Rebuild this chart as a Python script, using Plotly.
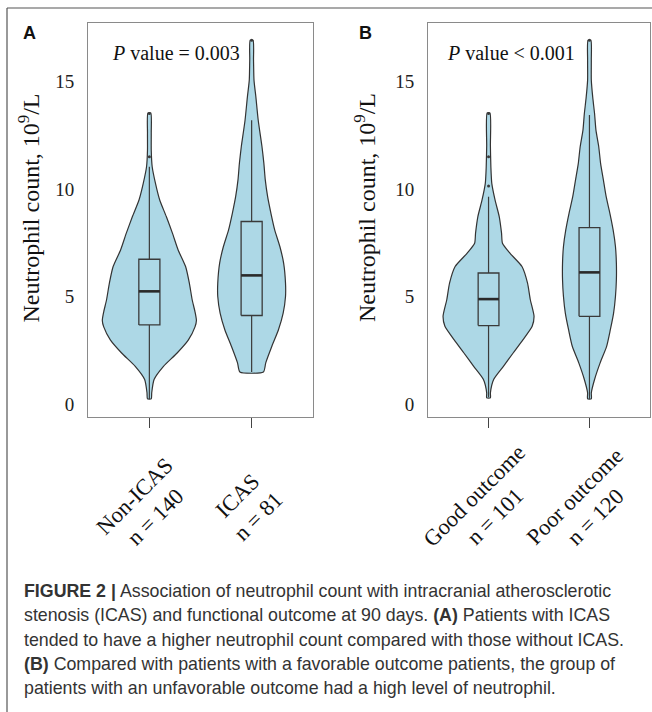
import plotly.graph_objects as go

W, H = 652, 712

# ---------------- data ----------------
groups_A = ["Non-ICAS", "ICAS"]
n_A = [140, 81]
groups_B = ["Good outcome", "Poor outcome"]
n_B = [101, 120]
p_text_A = "<i>P</i> value = 0.003"
p_text_B = "<i>P</i> value < 0.001"
y_ticks = [0, 5, 10, 15]

# box statistics (lower whisker, Q1, median, Q3, upper whisker)
box_nonicas = [0.26, 3.69, 5.25, 6.74, 11.03]
box_icas = [1.51, 4.13, 5.99, 8.49, 13.19]
box_good = [0.34, 3.66, 4.89, 6.10, 9.64]
box_poor = [0.26, 4.09, 6.13, 8.21, 13.43]

out_nonicas = [11.5, 13.5]
out_icas = [16.9]
out_good = [10.14, 11.5, 13.5]
out_poor = [16.9]

# violin density profiles (value, relative density)
vy_nonicas = [0.26, 0.54, 1.16, 1.77, 2.39, 3.0, 3.6, 3.9, 4.3, 4.86, 5.63, 6.4, 7.18,
              7.95, 8.72, 9.49, 10.26, 11.03, 11.8, 12.6, 13.53]
vd_nonicas = [0.04, 0.05, 0.10, 0.30, 0.59, 0.83, 0.97, 1.0, 0.97, 0.91, 0.85, 0.77, 0.61,
              0.49, 0.36, 0.22, 0.13, 0.06, 0.04, 0.04, 0.03]

vy_icas = [1.51, 1.93, 2.7, 3.47, 4.24, 5.01, 5.63, 6.56, 7.33, 8.1, 8.87, 9.64, 10.42,
           11.19, 11.96, 13.19, 14.27, 15.05, 16.0, 16.9]
vd_icas = [0.25, 0.30, 0.43, 0.57, 0.67, 0.72, 0.72, 0.68, 0.60, 0.49, 0.41, 0.34, 0.29,
           0.26, 0.22, 0.14, 0.09, 0.05, 0.04, 0.03]

vy_good = [0.31, 0.54, 1.16, 1.77, 2.39, 3.0, 3.63, 4.09, 4.86, 5.63, 6.4, 7.02, 7.48,
           7.95, 8.72, 9.49, 10.26, 11.03, 12.0, 13.53]
vd_good = [0.04, 0.04, 0.11, 0.32, 0.53, 0.74, 0.94, 0.98, 0.90, 0.84, 0.72, 0.46, 0.30,
           0.28, 0.23, 0.14, 0.07, 0.05, 0.04, 0.03]

vy_poor = [0.26, 0.54, 1.16, 1.93, 2.7, 3.47, 4.24, 5.01, 5.79, 6.56, 7.33, 8.1, 8.87,
           9.64, 10.42, 11.19, 11.96, 12.73, 13.5, 14.27, 15.05, 16.0, 16.9]
vd_poor = [0.04, 0.04, 0.11, 0.23, 0.37, 0.45, 0.52, 0.56, 0.58, 0.58, 0.56, 0.51, 0.44,
           0.36, 0.30, 0.24, 0.20, 0.14, 0.11, 0.07, 0.04, 0.04, 0.03]

CAPTION_LINES = [
    "<b>FIGURE 2 |</b> Association of neutrophil count with intracranial atherosclerotic",
    "stenosis (ICAS) and functional outcome at 90 days. <b>(A)</b> Patients with ICAS",
    "tended to have a higher neutrophil count compared with those without ICAS.",
    "<b>(B)</b> Compared with patients with a favorable outcome patients, the group of",
    "patients with an unfavorable outcome had a high level of neutrophil.",
]

# ---------------- styling ----------------
FILL = "#ADD8E6"
EDGE = "#333333"
BOXLINE = "#3a3a3a"
SERIF = "Liberation Serif"
SANS = "Liberation Sans"
VIOLIN_HALF = 0.46   # x-units for relative density 1.0
BOX_W = 0.206

fig = go.Figure()


def add_group(pos, vy, vd, box, outl, xa, ya):
    # violin outline
    xs = [pos - d * VIOLIN_HALF for d in vd] + [pos + d * VIOLIN_HALF for d in reversed(vd)]
    ys = list(vy) + list(reversed(vy))
    xs.append(xs[0])
    ys.append(ys[0])
    fig.add_trace(go.Scatter(x=xs, y=ys, mode="lines", fill="toself", fillcolor=FILL,
                             line=dict(color=EDGE, width=1.2, shape="spline", smoothing=0.6),
                             xaxis=xa, yaxis=ya, hoverinfo="skip"))
    lf, q1, med, q3, uf = box
    # whiskers
    fig.add_trace(go.Scatter(x=[pos, pos, None, pos, pos], y=[lf, q1, None, q3, uf],
                             mode="lines", line=dict(color=BOXLINE, width=1.2),
                             xaxis=xa, yaxis=ya, hoverinfo="skip"))
    # box body
    l, r = pos - BOX_W / 2, pos + BOX_W / 2
    fig.add_trace(go.Scatter(x=[l, r, r, l, l], y=[q1, q1, q3, q3, q1], mode="lines",
                             fill="toself", fillcolor=FILL,
                             line=dict(color=BOXLINE, width=1.3),
                             xaxis=xa, yaxis=ya, hoverinfo="skip"))
    # median
    fig.add_trace(go.Scatter(x=[l, r], y=[med, med], mode="lines",
                             line=dict(color="#2a2a2a", width=2.6), xaxis=xa, yaxis=ya,
                             hoverinfo="skip"))
    # outliers
    fig.add_trace(go.Scatter(x=[pos] * len(outl), y=outl, mode="markers",
                             marker=dict(color=BOXLINE, size=3), xaxis=xa, yaxis=ya,
                             hoverinfo="skip"))


add_group(0, vy_nonicas, vd_nonicas, box_nonicas, out_nonicas, "x", "y")
add_group(1, vy_icas, vd_icas, box_icas, out_icas, "x", "y")
add_group(0, vy_good, vd_good, box_good, out_good, "x2", "y2")
add_group(1, vy_poor, vd_poor, box_poor, out_poor, "x2", "y2")


def px_x(v):
    return v / W


def px_y(v):
    return 1 - v / H


xcommon = dict(range=[-0.6, 1.6], tickvals=[0, 1], showticklabels=False, ticks="outside",
               ticklen=10, tickwidth=1, tickcolor="#444", showline=True, mirror=True,
               linecolor="#8a8a8a", linewidth=1, showgrid=False, zeroline=False, fixedrange=True)
ycommon = dict(range=[-0.58, 17.70], tickvals=y_ticks, ticks="", showline=True, mirror=True,
               linecolor="#8a8a8a", linewidth=1, showgrid=False, zeroline=False,
               tickfont=dict(family=SERIF, size=19, color="#222"), ticklabelstandoff=9,
               domain=[px_y(417), px_y(23)], fixedrange=True)

fig.update_layout(
    width=W, height=H, margin=dict(l=0, r=0, t=0, b=0),
    paper_bgcolor="white", plot_bgcolor="white", showlegend=False,
    xaxis=dict(domain=[px_x(88), px_x(313)], **xcommon),
    xaxis2=dict(domain=[px_x(428), px_x(650)], anchor="y2", **xcommon),
    yaxis=dict(anchor="x", **ycommon),
    yaxis2=dict(anchor="x2", **ycommon),
)

ann = []
# x category labels
for xa, groups, ns in (("x", groups_A, n_A), ("x2", groups_B, n_B)):
    for i, (g, n) in enumerate(zip(groups, ns)):
        ann.append(dict(x=i, xref=xa, y=px_y(506), yref="paper", xshift=-4,
                        text=f"{g}<br>n = {n}", showarrow=False, textangle=-45,
                        xanchor="center", yanchor="middle", align="center",
                        font=dict(family=SERIF, size=22.5, color="#111")))
# y titles
for cx in (28.5, 365):
    ann.append(dict(x=px_x(cx), xref="paper", y=px_y(208), yref="paper",
                    text="Neutrophil count, 10<sup>9</sup>/L", showarrow=False, textangle=-90,
                    xanchor="center", yanchor="middle",
                    font=dict(family=SERIF, size=24, color="#111")))
# p values
for cx, t in ((175.5, p_text_A), (511, p_text_B)):
    ann.append(dict(x=px_x(cx), xref="paper", y=px_y(53), yref="paper", text=t,
                    showarrow=False, xanchor="center", yanchor="middle",
                    font=dict(family=SERIF, size=20, color="#111")))
# panel letters
for cx, t in ((29.5, "A"), (365.5, "B")):
    ann.append(dict(x=px_x(cx), xref="paper", y=px_y(33), yref="paper", text=f"<b>{t}</b>",
                    showarrow=False, xanchor="center", yanchor="middle",
                    font=dict(family=SANS, size=18, color="#111")))
# caption
cap_y = [591, 615, 640, 664, 688]
for line, cy in zip(CAPTION_LINES, cap_y):
    ann.append(dict(x=px_x(22), xref="paper", y=px_y(cy), yref="paper", text=line,
                    showarrow=False, xanchor="left", yanchor="middle",
                    font=dict(family=SANS, size=17.8, color="#333")))
fig.update_layout(annotations=ann)

# outer frame lines
fig.add_shape(type="line", xref="paper", yref="paper", x0=px_x(7), x1=1, y0=px_y(8), y1=px_y(8),
              line=dict(color="#555", width=1.2))
fig.add_shape(type="line", xref="paper", yref="paper", x0=px_x(7), x1=px_x(7), y0=px_y(8), y1=0,
              line=dict(color="#555", width=1.2))

fig.write_html("out.html", config={"displayModeBar": False},
               post_script="document.body.style.margin='0';")
